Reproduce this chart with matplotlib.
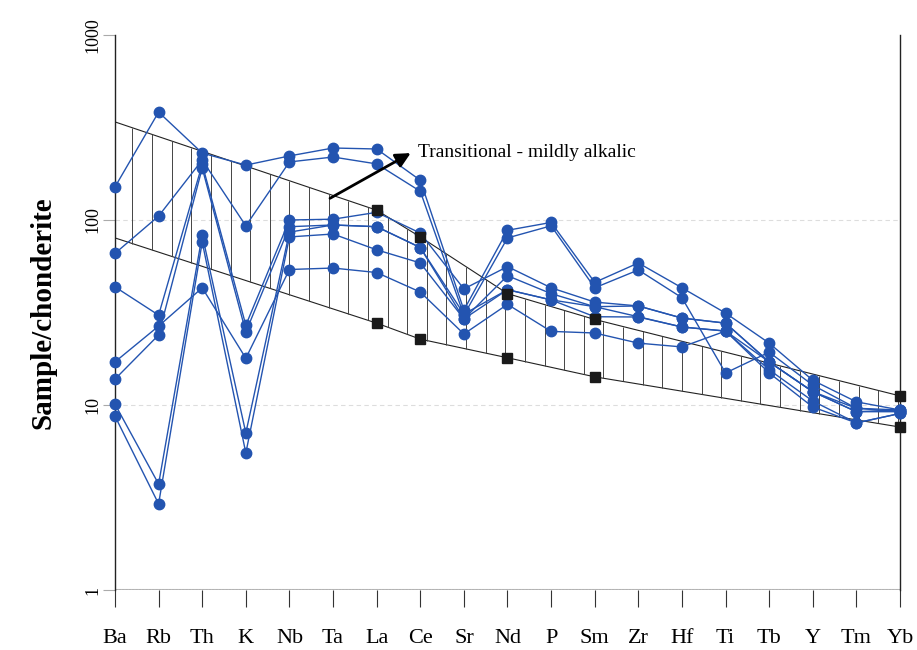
import numpy as np
import matplotlib.pyplot as plt

## ===== data ===== ##

elements = ["Ba", "Rb", "Th", "K", "Nb", "Ta", "La", "Ce", "Sr", "Nd",
            "P", "Sm", "Zr", "Hf", "Ti", "Tb", "Y", "Tm", "Yb"]

# chondrite-normalised samples
sample_a = [151, 383, 230, 198, 222, 245, 242, 164, 32.6, 88, 97, 46, 58.6, 43, 31.4, 21.6, 13.6, 10.4, 9.4]
sample_b = [66, 105, 211, 93, 206, 219, 201, 143, 30.6, 80, 93, 43, 53.7, 38, 14.9, 19.3, 12.8, 9.6, 9.2]
sample_c = [43.5, 30.6, 200, 27, 100, 101, 110, 85, 42.4, 56, 43, 36, 34.3, 29.5, 27.7, 17.1, 11.8, 9.2, 9.4]
sample_d = [17.1, 26.7, 43, 17.9, 54, 55, 52, 40.8, 24.2, 35, 25, 24.5, 21.6, 20.6, 25.1, 14.9, 9.75, 8.0, 9.0]
sample_e = [13.8, 23.9, 191, 24.8, 92, 94, 92, 71, 29.2, 50, 40, 34, 34.3, 29.5, 27.7, 17.1, 11.8, 9.6, 9.4]
sample_f = [10.1, 3.74, 83, 7.06, 86, 94, 92, 71, 31, 42, 37, 34, 30, 26.4, 25.1, 17.1, 11.8, 9.2, 9.2]
sample_g = [8.7, 2.92, 76, 5.5, 81, 84, 69, 58.6, 29.2, 42, 37, 30, 29.9, 26.4, 25.1, 15.5, 10.5, 8.0, 9.0]
samples = [sample_a, sample_b, sample_c, sample_d, sample_e, sample_f, sample_g]

# transitional - mildly alkalic field
field_elems = ["Ba", "La", "Ce", "Nd", "Sm", "Yb"]
field_upper = [339, 113, 81, 40, 29, 11.2]
field_lower = [80, 27.7, 22.7, 18, 14.2, 7.6]

## ================ ##

plt.rcParams['font.family'] = ['Liberation Serif', 'DejaVu Serif']

blue = '#2354b0'
x = np.arange(len(elements))
idx = {e: i for i, e in enumerate(elements)}
fx = np.array([idx[e] for e in field_elems])

fig = plt.figure(figsize=(9.17, 6.5), dpi=100)
ax = fig.add_axes([115/917, 60/650, 785/917, 555/650])
ax.set_yscale('log')
ax.set_ylim(1, 1000)
ax.set_xlim(0, 18)

# field boundaries + vertical hatching
ax.plot(fx, field_upper, color='#222222', lw=0.8, zorder=2)
ax.plot(fx, field_lower, color='#222222', lw=0.8, zorder=2)
hx = np.arange(0.4, 18, 0.45)
up = 10 ** np.interp(hx, fx, np.log10(field_upper))
lo = 10 ** np.interp(hx, fx, np.log10(field_lower))
ax.vlines(hx, lo, up, color='#444444', lw=0.7, zorder=2)

# black squares for field nodes
ax.plot(fx[1:], field_upper[1:], 's', color='#1a1a1a', ms=7.5, ls='none', zorder=4, clip_on=False)
ax.plot(fx[1:], field_lower[1:], 's', color='#1a1a1a', ms=7.5, ls='none', zorder=4, clip_on=False)

for s in samples:
    ax.plot(x, s, '-o', color=blue, lw=1.0, ms=7.5, zorder=3, clip_on=False)

# label + arrow
ax.annotate("", xy=(6.78, 230), xytext=(4.93, 131),
            arrowprops=dict(arrowstyle='-|>', color='black', lw=2, mutation_scale=22,
                            shrinkA=0, shrinkB=0), zorder=5)
ax.text(6.95, 232, "Transitional - mildly alkalic", fontsize=14, va='center', ha='left')

# axes styling
ax.set_xticks(x)
ax.set_xticklabels(elements, fontsize=16)
ax.set_yticks([1, 10, 100, 1000])
ax.set_yticklabels(["1", "10", "100", "1000"], rotation=90, va='center', fontsize=13)
ax.minorticks_off()
ax.tick_params(axis='x', length=12, width=0.8, color='#333333', pad=16, direction='out')
ax.tick_params(axis='y', length=9, width=0.8, color='#aaaaaa', pad=1)
for yv in [10, 100]:
    ax.axhline(yv, color='#dddddd', lw=0.8, ls=(0, (4, 3)), zorder=0)
ax.axhline(1, color='#bbbbbb', lw=1.5, zorder=1)
ax.axhline(1, color='#222222', lw=0.8, ls=(0, (2, 1)), zorder=1)
for sp in ['left', 'right']:
    ax.spines[sp].set_color('#222222')
    ax.spines[sp].set_linewidth(1.0)
ax.spines['top'].set_visible(False)
ax.spines['bottom'].set_visible(False)
ax.set_ylabel("Sample/chonderite", fontsize=21, fontweight='bold', labelpad=20)

fig.savefig('out.png', dpi=100)
